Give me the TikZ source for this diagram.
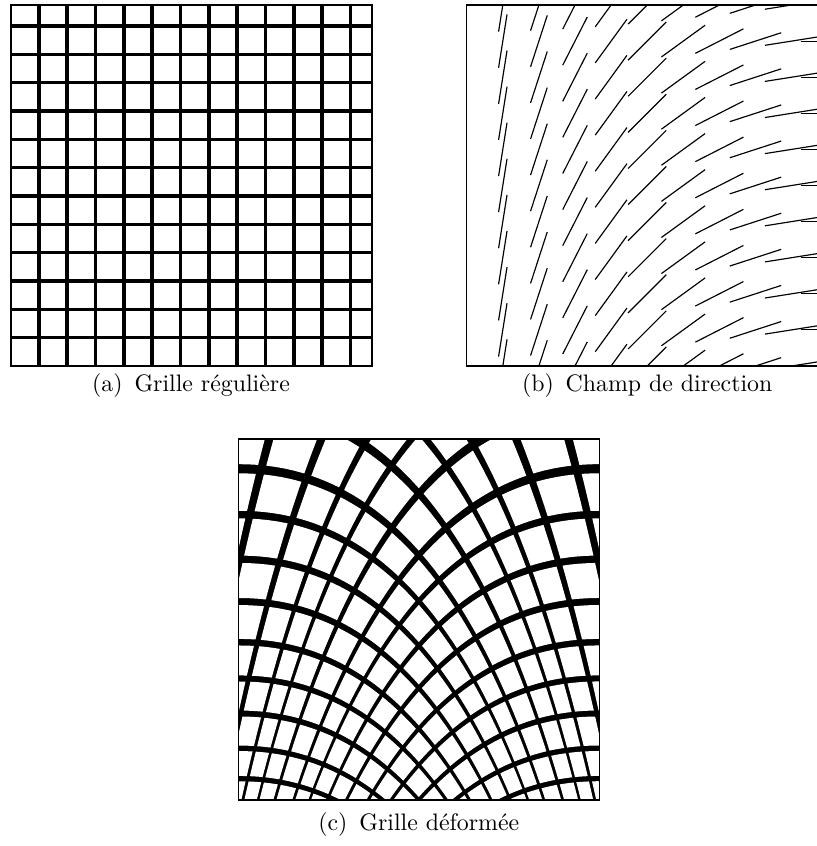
\documentclass[tikz,border=0pt]{standalone}
\def\dtab{{-0.03,0.061,0.144,0.241,0.338,0.438,0.551,0.668,0.792,0.917,1.09,1.264,1.438,1.70,2.14,2.75,3.5}}
\newcommand\cellpt[2]{({cellx(\csname hd#1\endcsname,\csname vd#2\endcsname)},{celly(\csname hd#1\endcsname,\csname vd#2\endcsname)})}
\begin{document}
\begin{tikzpicture}[x=0.6pt,y=0.6pt,
  caption/.style={anchor=base,scale=1.43},
  frame/.style={line width=1.2pt},
  gridline/.style={line width=2.1pt},
  dirseg/.style={line width=0.7pt},
  declare function={
    dval(\ka)=\dtab[int(floor(\ka))+1]+(\ka-floor(\ka))*(\dtab[int(floor(\ka))+2]-\dtab[int(floor(\ka))+1]);
    asinhf(\sa)=ln(\sa+sqrt(\sa*\sa+1));
    zoff(\ha,\va)=0.3745*asinhf((\ha-\va)/0.8464);
    ebend(\za)=0.482+3.546*\za*\za+2.104*\za*\za*\za*\za;
    cellx(\hb,\vb)=0.5+zoff(\hb,\vb);
    celly(\hc,\vc)=(\hc+\vc)/2-ebend(zoff(\hc,\vc))/2;
  }]
  \useasboundingbox (0,0) rectangle (817,846);

  \begin{scope}
    \clip (10.5,480) rectangle (371.5,841);
    \foreach \k in {1,...,12}{
      \draw[gridline] (10.5+28.34*\k,480) -- ++(0,361);
      \draw[gridline] (10.5,480+28.34*\k) -- ++(361,0);
    }
  \end{scope}
  \draw[frame] (10.5,480) rectangle (371.5,841);
  \node[caption] (capa) at (191,454.7) {(a)\enskip Grille régulière};

  \begin{scope}
    \clip (466.7,480) rectangle ++(361,361);
    \foreach \i in {0,...,10}
      \foreach \j in {0,...,10}
        \draw[dirseg] (466.7+36.1*\i,480+36.1*\j) ++({270-9*\i}:27) -- ++({90-9*\i}:54);
  \end{scope}
  \draw[line width=0.8pt] (466.7,480) rectangle ++(361,361);
  \node[caption] (capb) at (647.2,454.7) {(b)\enskip Champ de direction};

  \begin{scope}[shift={(238.3,46)},x=216.6pt,y=216.6pt]
    \begin{scope}
      \clip (0,0) rectangle (1,1);
      \fill (0,0) rectangle (1,1);
      \foreach \k in {-1,...,14}{
        \pgfmathsetmacro\hdA{dval(\k+0.085)}
        \pgfmathsetmacro\hdB{dval(\k+0.2925)}
        \pgfmathsetmacro\hdC{dval(\k+0.5)}
        \pgfmathsetmacro\hdD{dval(\k+0.7075)}
        \pgfmathsetmacro\hdE{dval(\k+0.915)}
        \foreach \m in {-1,...,14}{
          \pgfmathsetmacro\vdA{dval(\m+0.085)}
          \pgfmathsetmacro\vdB{dval(\m+0.2925)}
          \pgfmathsetmacro\vdC{dval(\m+0.5)}
          \pgfmathsetmacro\vdD{dval(\m+0.7075)}
          \pgfmathsetmacro\vdE{dval(\m+0.915)}
          \pgfmathsetmacro\yc{celly(\hdC,\vdC)}
          \ifdim\yc pt<1.4pt\ifdim\yc pt>-0.4pt
            \fill[white] \cellpt AA -- \cellpt AB -- \cellpt AC -- \cellpt AD -- \cellpt AE
              -- \cellpt BE -- \cellpt CE -- \cellpt DE -- \cellpt EE -- \cellpt ED -- \cellpt EC
              -- \cellpt EB -- \cellpt EA -- \cellpt DA -- \cellpt CA -- \cellpt BA -- cycle;
          \fi\fi
        }
      }
    \end{scope}
    \draw[line width=0.9pt] (0,0) rectangle (1,1);
  \end{scope}
  \node[caption] (capc) at (418.8,16) {(c)\enskip Grille déformée};
\end{tikzpicture}
\end{document}
